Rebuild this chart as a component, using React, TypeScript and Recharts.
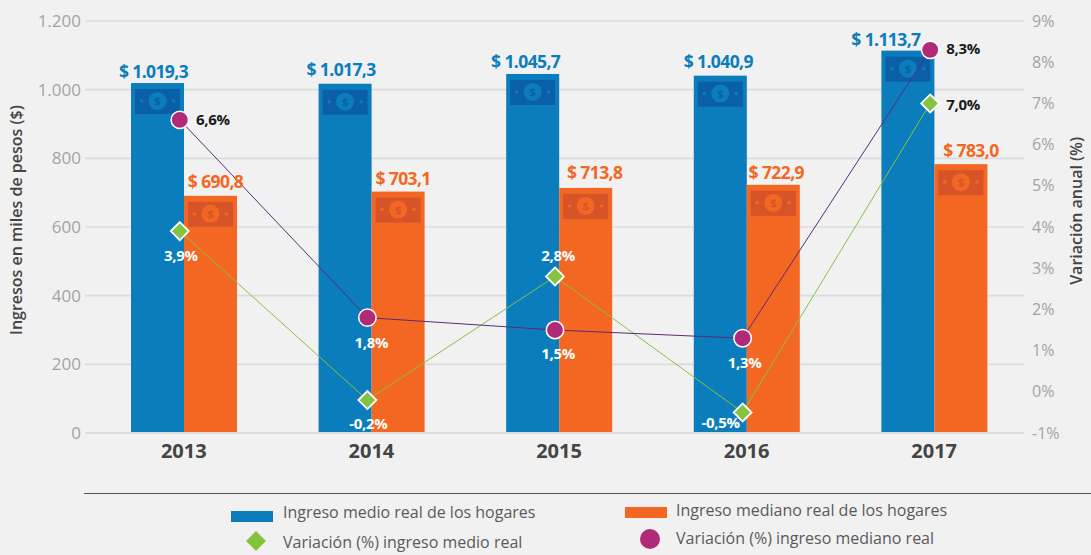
import React from 'react';
import {
  ComposedChart,
  Bar,
  Line,
  XAxis,
  YAxis,
  CartesianGrid,
  LabelList
} from 'recharts';

const years = ['2013', '2014', '2015', '2016', '2017'];
const meanIncome = [1019.3, 1017.3, 1045.7, 1040.9, 1113.7];
const medianIncome = [690.8, 703.1, 713.8, 722.9, 783.0];
const meanChange = [3.9, -0.2, 2.8, -0.5, 7.0];
const medianChange = [6.6, 1.8, 1.5, 1.3, 8.3];
const leftTicks = [0, 200, 400, 600, 800, 1000, 1200];
const rightTicks = [-1, 0, 1, 2, 3, 4, 5, 6, 7, 8, 9];

const data = years.map((year, i) => ({
  year,
  meanIncome: meanIncome[i],
  medianIncome: medianIncome[i],
  meanChange: meanChange[i],
  medianChange: medianChange[i]
}));

const FONT = '"Open Sans", sans-serif';
const BLUE = '#0b7dbd';
const ORANGE = '#f46723';
const GREEN = '#84c341';
const PURPLE = '#b02a78';

// the labels sit off-centre in the original, so nudge them one by one
const meanLabelShift = [[-4, -5], [-4, -8], [-7, -6], [-2, -8], [-22, -5]];
const medianLabelShift = [[5, -8], [5, -7], [9, -9], [3, -6], [10, -7]];
const meanChangeLabel = [
  { dx: 1, dy: 25, fill: '#fff' },
  { dx: 1, dy: 24, fill: '#fff' },
  { dx: 3, dy: -20, fill: '#fff' },
  { dx: -22, dy: 11, fill: '#fff' },
  { dx: 33, dy: 2, fill: '#1a1a1a' }
];
const medianChangeLabel = [
  { dx: 33, dy: 0, fill: '#1a1a1a' },
  { dx: 4, dy: 25, fill: '#fff' },
  { dx: 3, dy: 24, fill: '#fff' },
  { dx: 2, dy: 25, fill: '#fff' },
  { dx: 33, dy: -1, fill: '#1a1a1a' }
];

const money = (v: number) =>
  '$ ' + v.toFixed(1).replace('.', ',').replace(/^(\d)(\d{3})/, '$1.$2');
const percent = (v: number) => v.toFixed(1).replace('.', ',') + '%';

const BillBar = (props: any) => {
  const { x, y, width, height, fill, billColor } = props;
  const cx = x + width / 2;
  const cy = y + 18;
  return (
    <g>
      <rect x={x} y={y} width={width} height={height} fill={fill} />
      <rect x={x + 4} y={y + 6} width={width - 8} height={25} fill={billColor} />
      <circle cx={cx} cy={cy} r={9} fill={fill} />
      <circle cx={cx - 16} cy={cy} r={1.8} fill={fill} />
      <circle cx={cx + 16} cy={cy} r={1.8} fill={fill} />
      <text x={cx} y={cy + 4} textAnchor="middle" fontFamily={FONT} fontSize={11} fontWeight={700} fill={billColor}>$</text>
    </g>
  );
};

const moneyLabel = (shift: number[][], color: string) => (props: any) => {
  const { x, y, width, value, index } = props;
  return (
    <text
      x={x + width / 2 + shift[index][0]}
      y={y + shift[index][1]}
      textAnchor="middle"
      fontFamily={FONT}
      fontSize={17.5}
      fontWeight={700}
      letterSpacing={-0.6}
      fill={color}
    >
      {money(value)}
    </text>
  );
};

const changeLabel = (specs: any[]) => (props: any) => {
  const { x, y, value, index } = props;
  const s = specs[index];
  return (
    <text
      x={x + s.dx}
      y={y + s.dy + 5}
      textAnchor="middle"
      fontFamily={FONT}
      fontSize={15}
      fontWeight={700}
      letterSpacing={-0.3}
      fill={s.fill}
    >
      {percent(value)}
    </text>
  );
};

const Diamond = (props: any) => {
  const { cx, cy, index } = props;
  return (
    <path
      key={index}
      d={`M${cx} ${cy - 9}L${cx + 9} ${cy}L${cx} ${cy + 9}L${cx - 9} ${cy}Z`}
      fill={GREEN}
      stroke="#fff"
      strokeWidth={1.8}
    />
  );
};

const Circle = (props: any) => {
  const { cx, cy, index } = props;
  return <circle key={index} cx={cx} cy={cy} r={8.7} fill={PURPLE} stroke="#fff" strokeWidth={1.5} />;
};

const legendText: React.CSSProperties = {
  position: 'absolute',
  fontFamily: FONT,
  fontSize: 16,
  color: '#5a5a5a',
  whiteSpace: 'nowrap',
  lineHeight: '20px'
};

const App = () => {
  return (
    <div style={{ position: 'absolute', left: 0, top: 0, width: 1091, height: 555, background: '#f1f1f1', overflow: 'hidden' }}>
      <ComposedChart
        width={1091}
        height={555}
        data={data}
        barGap={0}
        barSize={53}
        margin={{ top: 21, right: 0, bottom: 0, left: 0 }}
      >
        <CartesianGrid yAxisId="left" vertical={false} stroke="#dcdcdc" strokeWidth={1.6} />
        <XAxis
          dataKey="year"
          height={122}
          padding={{ left: 5, right: -4 }}
          axisLine={{ stroke: '#dcdcdc', strokeWidth: 2 }}
          tickLine={false}
          tickMargin={5}
          tick={{ fontFamily: FONT, fontSize: 20, fontWeight: 700, fill: '#444' }}
        />
        <XAxis dataKey="year" xAxisId="line" hide padding={{ left: 1, right: 0 }} />
        <YAxis
          yAxisId="left"
          width={85}
          domain={[0, 1200]}
          ticks={leftTicks}
          tickFormatter={(v: number) => (v >= 1000 ? v.toString().replace(/^(\d)/, '$1.') : String(v))}
          axisLine={false}
          tickLine={false}
          tickMargin={-2}
          tick={{ fontFamily: FONT, fontSize: 17, fill: '#a3a3a3' }}
          label={{
            value: 'Ingresos en miles de pesos ($)',
            angle: -90,
            position: 'insideLeft',
            dx: 11,
            dy: 108,
            style: { fontFamily: FONT, fontSize: 16, fontWeight: 600, fill: '#444' }
          }}
        />
        <YAxis
          yAxisId="right"
          orientation="right"
          width={67}
          domain={[-1, 9]}
          ticks={rightTicks}
          tickFormatter={(v: number) => v + '%'}
          axisLine={false}
          tickLine={false}
          tickMargin={2}
          tick={{ fontFamily: FONT, fontSize: 16, fill: '#a3a3a3' }}
          label={{
            value: 'Variación anual (%)',
            angle: -90,
            position: 'insideRight',
            dx: -10,
            dy: -90,
            style: { fontFamily: FONT, fontSize: 16, fontWeight: 600, fill: '#444' }
          }}
        />
        <Bar
          yAxisId="left"
          dataKey="meanIncome"
          fill={BLUE}
          isAnimationActive={false}
          shape={(p: any) => <BillBar {...p} billColor="#0a5fa6" />}
        >
          <LabelList dataKey="meanIncome" content={moneyLabel(meanLabelShift, BLUE)} />
        </Bar>
        <Bar
          yAxisId="left"
          dataKey="medianIncome"
          fill={ORANGE}
          isAnimationActive={false}
          shape={(p: any) => <BillBar {...p} billColor="#d65427" />}
        >
          <LabelList dataKey="medianIncome" content={moneyLabel(medianLabelShift, ORANGE)} />
        </Bar>
        <Line
          yAxisId="right"
          xAxisId="line"
          dataKey="meanChange"
          stroke={GREEN}
          strokeWidth={1}
          dot={<Diamond />}
          label={changeLabel(meanChangeLabel)}
          isAnimationActive={false}
        />
        <Line
          yAxisId="right"
          xAxisId="line"
          dataKey="medianChange"
          stroke="#5b2a78"
          strokeWidth={1}
          dot={<Circle />}
          label={changeLabel(medianChangeLabel)}
          isAnimationActive={false}
        />
      </ComposedChart>

      <div style={{ position: 'absolute', left: 84, top: 493, width: 1007, height: 1, background: '#555' }} />

      <div style={{ position: 'absolute', left: 231, top: 511, width: 42, height: 11, background: BLUE }} />
      <div style={{ ...legendText, left: 283, top: 502 }}>Ingreso medio real de los hogares</div>
      <div style={{ position: 'absolute', left: 625, top: 507, width: 42, height: 11, background: ORANGE }} />
      <div style={{ ...legendText, left: 676, top: 500 }}>Ingreso mediano real de los hogares</div>
      <div style={{ position: 'absolute', left: 249, top: 534, width: 14, height: 14, background: GREEN, transform: 'rotate(45deg)' }} />
      <div style={{ ...legendText, left: 283, top: 532 }}>Variación (%) ingreso medio real</div>
      <div style={{ position: 'absolute', left: 640, top: 529, width: 20, height: 20, borderRadius: 10, background: PURPLE }} />
      <div style={{ ...legendText, left: 676, top: 528 }}>Variación (%) ingreso mediano real</div>
    </div>
  );
};

export default App;
